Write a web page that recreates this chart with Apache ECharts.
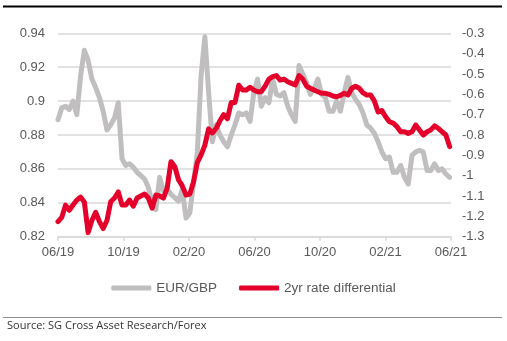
<!DOCTYPE html>
<html>
<head>
<meta charset="utf-8">
<script src="https://cdn.jsdelivr.net/npm/echarts@6/dist/echarts.min.js"></script>
<style>
html,body{margin:0;padding:0;background:#fff;}
#chart{width:507px;height:341px;}
</style>
</head>
<body>
<div id="chart"></div>
<script>
// Weekly observations starting at the beginning of June 2019
const xTickLabels = ['06/19','10/19','02/20','06/20','10/20','02/21','06/21'];
const seriesNames = ['EUR/GBP', '2yr rate differential'];

const eurgbp = [
0.889,0.896,0.897,0.895,0.900,0.892,0.915,0.930,0.924,0.913,
0.908,0.902,0.894,0.883,0.886,0.890,0.899,0.866,0.862,0.863,
0.861,0.858,0.856,0.854,0.849,0.840,0.836,0.855,0.847,0.848,
0.845,0.843,0.841,0.848,0.831,0.834,0.852,0.870,0.915,0.938,
0.905,0.876,0.886,0.880,0.876,0.873,0.880,0.886,0.893,0.892,
0.893,0.888,0.905,0.913,0.897,0.902,0.899,0.913,0.904,0.903,
0.905,0.897,0.892,0.888,0.921,0.916,0.911,0.904,0.907,0.913,
0.904,0.902,0.894,0.894,0.900,0.894,0.905,0.914,0.905,0.901,
0.898,0.893,0.886,0.884,0.881,0.876,0.870,0.866,0.867,0.858,
0.858,0.862,0.855,0.851,0.868,0.870,0.871,0.870,0.859,0.859,
0.863,0.859,0.860,0.857,0.855
];

const rateDiff = [
-1.226,-1.205,-1.145,-1.170,-1.144,-1.120,-1.105,-1.130,-1.280,-1.220,
-1.180,-1.226,-1.260,-1.220,-1.128,-1.110,-1.080,-1.144,-1.144,-1.120,
-1.150,-1.110,-1.100,-1.090,-1.110,-1.160,-1.095,-1.100,-1.110,-1.060,
-0.931,-0.955,-1.020,-1.050,-1.095,-1.090,-1.030,-0.935,-0.898,-0.850,
-0.770,-0.790,-0.767,-0.730,-0.700,-0.720,-0.640,-0.640,-0.555,-0.579,
-0.579,-0.565,-0.579,-0.587,-0.587,-0.560,-0.525,-0.513,-0.508,-0.530,
-0.525,-0.538,-0.546,-0.554,-0.508,-0.525,-0.560,-0.570,-0.579,-0.587,
-0.595,-0.595,-0.600,-0.608,-0.612,-0.605,-0.595,-0.603,-0.570,-0.560,
-0.570,-0.593,-0.603,-0.603,-0.632,-0.687,-0.680,-0.710,-0.735,-0.742,
-0.759,-0.784,-0.784,-0.792,-0.784,-0.751,-0.775,-0.800,-0.784,-0.775,
-0.755,-0.767,-0.784,-0.800,-0.857
];

const daysPerWeek = 7, daysPerMonth = 30.4375;
const toMonths = i => i * daysPerWeek / daysPerMonth;
const greyData = eurgbp.map((v, i) => [toMonths(i), v]);
const redData = rateDiff.map((v, i) => [toMonths(i), v]);

const textColor = '#595959';
const font = 'Liberation Sans, Arial, sans-serif';
const chart = echarts.init(document.getElementById('chart'));
chart.setOption({
  animation: false,
  backgroundColor: '#fff',
  grid: {left: 58, right: 56, top: 33.3, bottom: 104.3},
  legend: {
    data: seriesNames,
    top: 276, left: 'center',
    icon: 'roundRect', itemWidth: 40, itemHeight: 5, itemGap: 22,
    textStyle: {color: textColor, fontSize: 13.5, fontFamily: font, padding: [0,0,0,0]}
  },
  xAxis: {
    type: 'value', min: 0, max: 24, interval: 4,
    axisLine: {show: true, lineStyle: {color: '#d9d9d9', width: 1.5}},
    axisTick: {show: true, length: 4, lineStyle: {color: '#d9d9d9', width: 1.5}},
    splitLine: {show: false},
    axisLabel: {color: textColor, fontSize: 13, fontFamily: font, margin: 9,
      formatter: v => xTickLabels[Math.round(v / 4)]}
  },
  yAxis: [{
    type: 'value', min: 0.82, max: 0.94, interval: 0.02,
    axisLine: {show: false}, axisTick: {show: false},
    splitLine: {lineStyle: {color: '#d9d9d9', width: 1.5}},
    axisLabel: {color: textColor, fontSize: 13, fontFamily: font, margin: 13,
      formatter: v => String(+v.toFixed(2))}
  }, {
    type: 'value', min: -1.3, max: -0.3, interval: 0.1,
    axisLine: {show: false}, axisTick: {show: false},
    splitLine: {show: false},
    axisLabel: {color: textColor, fontSize: 13, fontFamily: font, margin: 11,
      formatter: v => String(Math.round(v * 10) / 10)}
  }],
  series: [{
    name: seriesNames[0], type: 'line', yAxisIndex: 0, data: greyData,
    showSymbol: false, symbol: 'none',
    itemStyle: {color: '#c0bebe'},
    lineStyle: {color: '#c0bebe', width: 5, cap: 'round', join: 'round'}
  }, {
    name: seriesNames[1], type: 'line', yAxisIndex: 1, data: redData,
    showSymbol: false, symbol: 'none',
    itemStyle: {color: '#e4002b'},
    lineStyle: {color: '#e4002b', width: 5, cap: 'round', join: 'round'}
  }],
  graphic: [
    {type: 'rect', shape: {x: 3, y: 5.5, width: 499, height: 2}, style: {fill: '#000'}},
    {type: 'rect', shape: {x: 3, y: 317, width: 499, height: 1}, style: {fill: '#8c8c8c'}},
    {type: 'text', left: 7, top: 320, style: {text: 'Source: SG Cross Asset Research/Forex',
      fill: '#333', font: '11px "Open Sans", sans-serif'}}
  ]
});
</script>
</body>
</html>
